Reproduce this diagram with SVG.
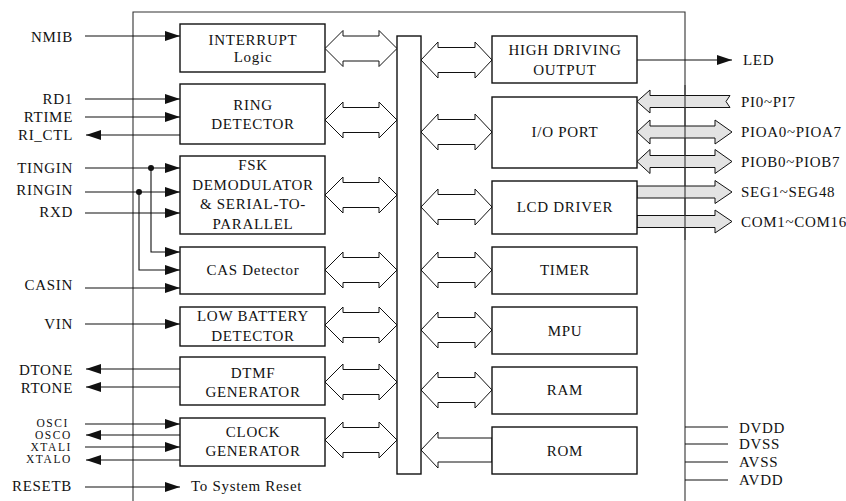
<svg xmlns="http://www.w3.org/2000/svg" width="846" height="501" viewBox="0 0 846 501">
<style>
.t{font-family:"Liberation Serif","DejaVu Serif","Times New Roman",serif;font-size:15px;letter-spacing:0.7px;fill:#111}
.s{font-size:11.5px;letter-spacing:1.6px}
.m{text-anchor:middle}
.e{text-anchor:end}
.blk{fill:#fff;stroke:#111;stroke-width:1.4}
.ln{fill:none;stroke:#111;stroke-width:1.1}
.box{fill:none;stroke:#333;stroke-width:1.1}
.oa{fill:#fff;stroke:#111;stroke-width:1}
.ga{fill:#e3e3e3;stroke:#111;stroke-width:1}
.ar{marker-end:url(#ah)}
</style>
<defs>
<marker id="ah" markerUnits="userSpaceOnUse" markerWidth="15" markerHeight="10" refX="15" refY="5" orient="auto">
<path d="M0,0 L15,5 L0,10 z" fill="#111"/>
</marker>
<polygon id="dbl" points="0,0 18,-18 18,-12.5 54,-12.5 54,-18 72,0 54,18 54,12.5 18,12.5 18,18"/>
<polygon id="dblr" points="0,0 17,-18 17,-12.5 54,-12.5 54,-18 71,0 54,18 54,12.5 17,12.5 17,18"/>
<polygon id="gdbl" points="0,0 13,-12 13,-6 78,-6 78,-12 95,0 78,12 78,6 13,6 13,12"/>
<polygon id="gout" points="0,-6 78,-6 78,-11.5 95,0 78,11.5 78,6 0,6"/>
</defs>

<g id="chip">
<polyline class="box" points="133,501 133,12 685,12 685,501"/>
</g>

<g id="connectors">
<use href="#dbl" class="oa" x="325" y="48.5"/>
<use href="#dbl" class="oa" x="325" y="120"/>
<use href="#dbl" class="oa" x="325" y="195"/>
<use href="#dbl" class="oa" x="325" y="270"/>
<use href="#dbl" class="oa" x="325" y="325"/>
<use href="#dbl" class="oa" x="325" y="382"/>
<use href="#dbl" class="oa" x="325" y="440"/>
<use href="#dblr" class="oa" x="421" y="60"/>
<use href="#dblr" class="oa" x="421" y="132"/>
<use href="#dblr" class="oa" x="421" y="207"/>
<use href="#dblr" class="oa" x="421" y="270"/>
<use href="#dblr" class="oa" x="421" y="330"/>
<use href="#dblr" class="oa" x="421" y="390"/>
<polygon class="oa" points="421,450 438,432 438,438 492,438 492,462 438,462 438,468"/>
<line class="ln ar" x1="85" y1="36" x2="180" y2="36"/>
<line class="ln ar" x1="85" y1="99" x2="180" y2="99"/>
<line class="ln ar" x1="85" y1="117" x2="180" y2="117"/>
<line class="ln ar" x1="180" y1="135" x2="86" y2="135"/>
<line class="ln ar" x1="85" y1="168" x2="180" y2="168"/>
<line class="ln ar" x1="85" y1="192" x2="180" y2="192"/>
<line class="ln ar" x1="85" y1="213" x2="180" y2="213"/>
<polyline class="ln ar" points="151,168 151,252 180,252"/>
<polyline class="ln ar" points="139,192 139,270 180,270"/>
<circle cx="151" cy="168" r="3" fill="#111"/>
<circle cx="139" cy="192" r="3" fill="#111"/>
<line class="ln ar" x1="85" y1="288" x2="180" y2="288"/>
<line class="ln ar" x1="85" y1="324" x2="180" y2="324"/>
<line class="ln ar" x1="180" y1="369" x2="86" y2="369"/>
<line class="ln ar" x1="180" y1="387" x2="86" y2="387"/>
<line class="ln ar" x1="85" y1="424" x2="180" y2="424"/>
<line class="ln ar" x1="180" y1="435" x2="86" y2="435"/>
<line class="ln ar" x1="85" y1="447" x2="180" y2="447"/>
<line class="ln ar" x1="180" y1="460" x2="86" y2="460"/>
<line class="ln ar" x1="85" y1="487" x2="180" y2="487"/>
<line class="ln ar" x1="637" y1="60" x2="732" y2="60"/>
<polygon class="ga" points="637,101.5 650,90 650,95.5 730,95.5 726,101.5 730,107.5 650,107.5 650,113"/>
<use href="#gdbl" class="ga" x="637" y="132"/>
<use href="#gdbl" class="ga" x="637" y="161.5"/>
<use href="#gout" class="ga" x="637" y="192"/>
<use href="#gout" class="ga" x="637" y="221.5"/>
<line class="ln" x1="685" y1="427" x2="728" y2="427"/>
<line class="ln" x1="685" y1="444" x2="728" y2="444"/>
<line class="ln" x1="685" y1="462" x2="728" y2="462"/>
<line class="ln" x1="685" y1="480" x2="728" y2="480"/>
<line class="box" x1="685" y1="85" x2="685" y2="240"/>
</g>

<g id="bus"><rect class="blk" x="397" y="36" width="24" height="438"/></g>

<g id="interrupt"><rect class="blk" x="180" y="24" width="145" height="48"/>
<text class="t m" x="253" y="45">INTERRUPT</text><text class="t m" x="253" y="62">Logic</text></g>
<g id="ring"><rect class="blk" x="180" y="84" width="145" height="60"/>
<text class="t m" x="253" y="110">RING</text><text class="t m" x="253" y="129">DETECTOR</text></g>
<g id="fsk"><rect class="blk" x="180" y="156" width="145" height="78"/>
<text class="t m" x="253" y="170">FSK</text><text class="t m" x="253" y="190">DEMODULATOR</text>
<text class="t m" x="253" y="209">&amp; SERIAL-TO-</text><text class="t m" x="253" y="229">PARALLEL</text></g>
<g id="cas"><rect class="blk" x="180" y="247" width="145" height="47"/>
<text class="t m" x="253" y="275">CAS Detector</text></g>
<g id="lowbat"><rect class="blk" x="180" y="307" width="145" height="39"/>
<text class="t m" x="253" y="321">LOW BATTERY</text><text class="t m" x="253" y="341">DETECTOR</text></g>
<g id="dtmf"><rect class="blk" x="180" y="357" width="145" height="48"/>
<text class="t m" x="253" y="378">DTMF</text><text class="t m" x="253" y="397">GENERATOR</text></g>
<g id="clock"><rect class="blk" x="180" y="418" width="145" height="48"/>
<text class="t m" x="253" y="437">CLOCK</text><text class="t m" x="253" y="456">GENERATOR</text></g>
<g id="reset"><text class="t" x="191" y="491">To System Reset</text></g>

<g id="highdrv"><rect class="blk" x="492" y="36" width="145" height="47"/>
<text class="t m" x="565" y="55">HIGH DRIVING</text><text class="t m" x="565" y="75">OUTPUT</text></g>
<g id="ioport"><rect class="blk" x="492" y="97" width="145" height="71"/>
<text class="t m" x="565" y="137">I/O PORT</text></g>
<g id="lcd"><rect class="blk" x="492" y="181" width="145" height="53"/>
<text class="t m" x="565" y="212">LCD DRIVER</text></g>
<g id="timer"><rect class="blk" x="492" y="247" width="145" height="47"/>
<text class="t m" x="565" y="275">TIMER</text></g>
<g id="mpu"><rect class="blk" x="492" y="307" width="145" height="47"/>
<text class="t m" x="565" y="336">MPU</text></g>
<g id="ram"><rect class="blk" x="492" y="367" width="145" height="47"/>
<text class="t m" x="565" y="395">RAM</text></g>
<g id="rom"><rect class="blk" x="492" y="427" width="145" height="47"/>
<text class="t m" x="565" y="456">ROM</text></g>

<g id="left-labels">
<text class="t e" x="73" y="42">NMIB</text>
<text class="t e" x="73" y="104">RD1</text>
<text class="t e" x="73" y="122">RTIME</text>
<text class="t e" x="73" y="140">RI_CTL</text>
<text class="t e" x="73" y="173">TINGIN</text>
<text class="t e" x="73" y="195">RINGIN</text>
<text class="t e" x="73" y="217">RXD</text>
<text class="t e" x="73" y="290">CASIN</text>
<text class="t e" x="73" y="329">VIN</text>
<text class="t e" x="73" y="375">DTONE</text>
<text class="t e" x="73" y="393">RTONE</text>
<text class="t s e" x="69" y="427">OSCI</text>
<text class="t s e" x="72" y="439">OSCO</text>
<text class="t s e" x="72" y="451">XTALI</text>
<text class="t s e" x="72" y="463">XTALO</text>
<text class="t e" x="72" y="491">RESETB</text>
</g>
<g id="right-labels">
<text class="t" x="743" y="65">LED</text>
<text class="t" x="741" y="107">PI0~PI7</text>
<text class="t" x="741" y="137">PIOA0~PIOA7</text>
<text class="t" x="741" y="167">PIOB0~PIOB7</text>
<text class="t" x="741" y="197">SEG1~SEG48</text>
<text class="t" x="741" y="227">COM1~COM16</text>
<text class="t" x="739" y="433">DVDD</text>
<text class="t" x="739" y="449">DVSS</text>
<text class="t" x="739" y="467">AVSS</text>
<text class="t" x="739" y="485">AVDD</text>
</g>
</svg>
